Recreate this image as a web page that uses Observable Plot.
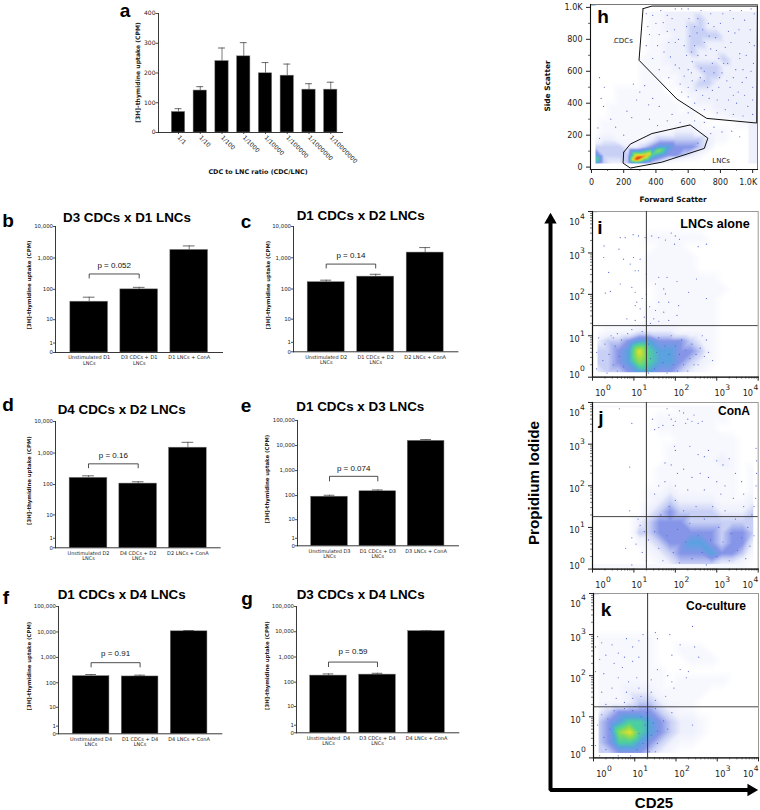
<!DOCTYPE html>
<html><head><meta charset="utf-8">
<script src="https://cdn.jsdelivr.net/npm/d3@7"></script>
<script src="https://cdn.jsdelivr.net/npm/@observablehq/plot@0.6"></script>
<style>
html,body{margin:0;padding:0;background:#fff}
#page{position:relative;width:760px;height:810px;overflow:hidden;background:#fff}
#page svg{position:absolute;background:transparent;overflow:visible}
.t{position:absolute;white-space:nowrap;transform:translate(-50%,-50%);line-height:1;color:#000}
</style></head><body><div id="page"></div>
<script>
// ---------- bar chart data ----------
const aCategories = ["1/1","1/10","1/100","1/1000","1/10000","1/100000","1/1000000","1/10000000"];
const aValues = [69,141,240,256,199,191,144,144];
const aHighs  = [80,154,284,302,235,230,164,169];

const bCategories = ["Unstimulated D1\nLNCs","D3 CDCs + D1\nLNCs","D1 LNCs + ConA"];
const bValues = [40,100,1800];
const bHighs  = [56,116,2415];
const bBracket = [230,310];
const bP = "p = 0.052"; const bPAt = 570;

const cCategories = ["Unstimulated D2\nLNCs","D1 CDCs + D2\nLNCs","D2 LNCs + ConA"];
const cValues = [166,250,1470];
const cHighs  = [192,297,2120];
const cBracket = [470,630];
const cP = "p = 0.14"; const cPAt = 1230;

const dCategories = ["Unstimulated D2\nLNCs","D4 CDCs + D2\nLNCs","D2 LNCs + ConA"];
const dValues = [163,107,1480];
const dHighs  = [189,122,2190];
const dBracket = [340,455];
const dP = "p = 0.16"; const dPAt = 830;

const eCategories = ["Unstimulated D3\nLNCs","D1 CDCs + D3\nLNCs","D3 LNCs + ConA"];
const eValues = [90,149,15400];
const eHighs  = [103,168,17400];
const eBracket = [385,590];
const eP = "p = 0.074"; const ePAt = 1170;

const fCategories = ["Unstimulated D4\nLNCs","D1 CDCs + D4\nLNCs","D4 LNCs + ConA"];
const fValues = [183,178,10600];
const fHighs  = [212,200,11400];
const fBracket = [420,620];
const fP = "p = 0.91"; const fPAt = 1370;

const gCategories = ["Unstimulated  D4\nLNCs","D3 CDCs + D4\nLNCs","D4 LNCs + ConA"];
const gValues = [183,200,10600];
const gHighs  = [213,226,11000];
const gBracket = [415,630];
const gP = "p = 0.59"; const gPAt = 1590;

const ticks4 = [0,1,10,100,1000,10000];
const ticks5 = [0,1,10,100,1000,10000,100000];
const aTicks = [0,100,200,300,400];

// ---------- flow cytometry data: density rows (0 = empty ... 9 = densest) ----------
const hRows = [ // y 975 down to 25, x 25 to 975, step 50
"00000001122222222222",
"00000001122223222222",
"00000001122233222222",
"00000001112233332222",
"00000001122233222222",
"00000001122232222222",
"00000011122222223222",
"00000011112223332222",
"00000011111222332222",
"00000011101223322222",
"00011111100122222222",
"00011111110012222222",
"00111111111011122222",
"00111111111110011222",
"01111111111111000011",
"01111111112221111000",
"12211112333333211000",
"33332234554443200000",
"53333886544321000000",
"53223543210000000000"];
const hHot = [[300,60,10],[280,50,10],[330,70,9],[255,45,8],[365,85,8],[420,105,7],[30,35,6],[40,60,6]];
const hDots = [[40,245],[50,180],[60,430],[50,560],[80,500],[140,780],[75,380],[120,300],[150,250],[200,200],[220,350],[250,310],[280,420],[300,470],[330,510],[260,520],[355,390],[380,430],[420,380],[360,300],[410,260],[500,330],[470,290],[550,280],[600,340],[640,290],[700,280],[760,250],[810,220],[870,225],[920,190],[740,210],[660,150],
[340,960],[400,900],[430,980],[470,850],[500,930],[520,780],[560,990],[590,880],[610,820],[640,760],[660,930],[690,860],[710,700],[740,960],[770,810],[800,900],[830,750],[860,980],[890,840],[920,710],[950,920],[980,780],[1005,650],[340,760],[380,680],[420,610],[450,720],[480,560],[520,640],[550,520],[590,700],[620,590],[650,480],[680,620],[700,540],[730,430],[760,590],[790,500],[820,650],[850,420],[880,560],[910,470],[940,610],[970,380],[1000,500],[780,340],[830,360],[880,330],[940,320],[1000,330],[600,440],[640,400],[700,360],[600,500],[560,470],
[360,830],[410,760],[445,905],[490,690],[515,860],[545,620],[575,760],[605,930],[625,660],[655,840],[675,560],[700,780],[725,900],[750,650],[775,730],[795,560],[815,960],[845,650],[865,780],[895,610],[915,860],[935,530],[960,700],[985,860],[1010,960],[1010,760],[600,610],[625,540],[660,700],[690,450],[720,500],[750,480],[780,420],[810,590],[860,500],[900,400],[950,450],[990,600],[575,570],[620,720],[540,800],[470,950],[420,830],[380,950],[350,880],[640,880],[680,980],[730,820],[760,880],[880,930],[930,980],[990,990],[850,850],[790,680],[740,740],[700,600],[600,990],[520,990],[480,780],[840,540],[920,680],[960,560],[1000,420],[880,450]];

const iRows = [ // y 3.875 down to 0.125, x 0.125 to 3.875 (log10), step 0.25
"0000000000000000",
"0000000000000000",
"0000011111100000",
"0000001110000000",
"0000011111000000",
"0000011111000000",
"0000011111110000",
"0000001111111000",
"0000001111110000",
"0000011111110000",
"0000011111110000",
"0111222211110000",
"2334554443210000",
"3345865544310000",
"3345765543210000",
"2334554432100000"];
const iDots = [[.67,3.37],[.79,3.37],[.98,3.44],[1.11,3.41],[1.27,3.37],[1.43,3.41],[1.6,3.37],[1.76,3.31],[1.9,3.48],[2,3.41],[2.1,3.33],[1.98,3.21],[2.55,3.15],[2.75,3.21],[.28,3.17],[.64,3.09],[.27,2.89],[.75,2.85],[.99,2.89],[1.15,2.85],[.91,2.73],[1.03,2.57],[1.11,2.57],[.39,2.53],[1.3,2.49],[1.6,2.41],[1.8,2.41],[2.04,2.31],[2.51,2.37],[.67,2.25],[.95,2.17],[1.03,2.05],[.43,2.07],[.31,2.03],[1.52,2.25],[1.72,2.13],[1.76,2.01],[1.07,1.81],[1.03,1.73],[1.15,1.65],[1.6,1.81],[1.84,1.81],[1.52,1.61],[1.72,1.57],[2.08,1.73],[2.32,2.05],[2.75,1.9],[.83,1.41],[1.03,1.37],[1.48,1.41],[1.84,1.37],[2.04,1.49],[1.2,1.9],[1.3,2],[1.38,1.7],[1.25,1.45],[1.4,1.3],[1.6,1.35],[2.6,.7],[2.7,.5],[2.75,.9],[2.8,.6],[2.9,.4],[2.55,.3],[2.65,1],
[.1,.2],[.1,.6],[.15,.95],[.25,.4],[.3,.8],[.35,.1],[.4,.55],[.45,1],[.5,.3],[.55,.75],[.6,.15],[.6,1.05],[.65,.5],[.7,.9],[.75,.25],[1.5,.2],[1.55,.6],[1.6,.95],[1.7,.35],[1.75,.75],[1.8,.1],[1.85,.55],[1.9,1],[1.95,.3],[2,.75],[2.05,.15],[2.1,.55],[2.15,.9],[2.2,.3],[2.25,.65],[2.3,.15],[2.35,.45],[2.4,.8],[2.45,.3],[2.5,.55],[1.35,.1],[1.4,.45],[1.35,.8],[1.2,1.1],[.95,1.15],[.85,1.05],[.5,.95]];
const iVertical = 20, iHorizontal = 17.6;

const jRows = [
"0000000011110000",
"0000001111111000",
"0000001111110000",
"0000000011111100",
"0000000111111100",
"0000000111112100",
"0000001111111101",
"0000001111111101",
"0000011211111101",
"0000012322221112",
"0000023433332223",
"0000234443333333",
"0000334444443443",
"0000123445543442",
"0000012344454431",
"0000001233332210"];
const jDots = [[1.8,3.85],[1.85,3.7],[1.9,3.6],[1.95,3.45],[2,3.55],[2.1,3.8],[2.2,3.75],[2.3,3.6],[2.4,3.55],[2.45,3.7],[2.55,3.5],[2.65,3.55],[2.25,3.5],[1.5,3.35],[1.6,3.4],[1.7,3.45],[1.45,3.6],[.65,3.85],[.95,3.5],[1.98,2.95],[2,2.85],[2.35,2.95],[2.55,2.75],[2.7,2.7],[2.8,2.85],[3,2.6],[3.15,2.5],[3.3,2.65],[1.75,2.55],[1.9,2.5],[2.05,2.3],[2.2,2.4],[2.4,2.2],[2.6,2.3],[2.8,2.2],[3,2.1],[3.2,2],[3.45,2.3],[3.6,2.1],[.9,2.45],[1.6,2],[1.75,2.1],[1.5,1.8],[2,2],[2.3,1.9],[2.7,1.9],[3.1,1.8],[3.4,1.7],[3.65,1.8],[3.95,2.9],[3.96,2.6],[3.96,2.3],[3.95,2],[3.94,1.7],[3.9,1.5],[1.25,.9],[1.05,.6],[.8,.5],[1.1,1.2],[1.2,.4],[.95,.75],[1.15,1.05],[.9,1.4],[1.35,.7],[1.3,.2],[.95,.1],
[1.5,.9],[1.6,.5],[1.65,1.3],[1.7,.2],[1.8,.8],[1.85,1.5],[1.95,.4],[2,1.65],[2.05,.95],[2.1,.15],[2.2,1.4],[2.25,.65],[2.35,1.1],[2.4,.25],[2.5,1.5],[2.55,.8],[2.65,.4],[2.7,1.2],[2.75,.1],[2.85,.7],[2.9,1.5],[3,.3],[3.05,1],[3.15,.65],[3.2,1.4],[3.3,.2],[3.35,.85],[3.45,1.2],[3.5,.45],[3.6,.75],[3.65,1.5],[3.7,.25],[3.75,1],[3.8,.55],[3.85,1.3],[3.9,.8]];
const jVertical = 20, jHorizontal = 18.2;

const kRows = [
"0000000000000000",
"0000000000000000",
"0000000000000000",
"0000000000000000",
"1111110000000000",
"1111110011100000",
"1111110001110000",
"1111111000000000",
"1111111011111000",
"1112221111100000",
"1112332111000000",
"2344443211000000",
"3456654322100000",
"3478654322100000",
"3466543211000000",
"3344432100000000"];
const kDots = [[.1,2.95],[.2,2.8],[.05,2.7],[.3,2.5],[.15,2.4],[.45,2.75],[.6,2.55],[.75,2.45],[.95,2.7],[1.1,2.85],[1.2,3],[.8,2.9],[.5,2.3],[.7,2.2],[.95,2.35],[1.1,2.45],[.05,2.1],[.25,2.05],[.6,1.95],[.85,1.85],[1.05,1.95],[1.1,1.7],[.8,1.6],[.45,1.7],[.2,1.6],[.95,1.45],[1.15,1.5],[.75,1.35],[1.5,3.05],[1.55,2.9],[1.85,3],[1.9,2.5],[2.1,2.75],[2.4,3.2],[2.55,2.45],[2.45,2.7],[1.4,1.9],[1.55,2.15],[1.8,2],[1.95,1.7],[2.1,2.15],[2.25,1.95],[2.3,2.1],[1.75,1.5],[1.5,1.4],[1.4,1.6],[1.9,1.85],[2.4,.8],[1.7,.9],[1.8,.7],[1.55,.35],[1.5,.15],[1.9,1.1],
[.05,.3],[.1,.8],[.15,.05],[.2,1.05],[.25,.5],[.3,.2],[.35,.95],[.4,.7],[1.05,.2],[1.1,.6],[1.15,1],[1.2,.35],[1.25,.8],[1.3,1.1],[1.35,.15],[1.4,.55],[1.45,.85],[1.5,1.2],[1.55,.65],[.5,1.15],[.75,1.2],[1,1.25],[.6,.05],[.9,.05],[.3,1.3],[.55,1.45],[.95,1.15]];
const kVertical = 20.5, kHorizontal = 17.5;

const cdcGate = [[320,992],[375,1008],[1029,1008],[1025,276],[715,305],[530,426],[295,669],[320,992]];
const lncGate = [[200,93],[241,144],[375,210],[612,264],[722,181],[700,117],[437,31],[241,-6],[196,25],[200,93]];
const scatterTicks = [0,200,400,600,800];
const scatterMinor = [100,300,500,700,900];
const exponents = [0,1,2,3,4];
const densityColors = ["#ffffff","#f7f8fe","#eef0fc","#c8d0f5","#8695e8","#5aa2e0","#4ccfa0","#8fdc50","#e8e030","#f09020","#e02810"];

// ---------- drawing ----------
const page = document.getElementById("page");
const sans = "'DejaVu Sans',sans-serif", bold = "'Liberation Sans',Arial,sans-serif";
function place(el,x,y){el.style.left=x+"px";el.style.top=y+"px";page.appendChild(el);}
function label(text,x,y,css){const d=document.createElement("div");d.className="t";d.textContent=text;d.style.left=x+"px";d.style.top=y+"px";d.style.cssText+=css;page.appendChild(d);}

function barPanel(L,cats,vals,highs,ticks,o={}){
  const n=cats.length, W=L.right-L.left, pi=1-L.w/L.step, po=(W/L.step-n+pi)/2;
  const al=(L.c0-L.w/2-L.left)/(W-L.step*(n-pi));
  const ml=56,mt=8,mb=L.mb||24,mr=L.mr||4;
  const data=cats.map((c,i)=>({c,v:vals[i],h:highs[i]}));
  const marks=[
    Plot.barY(data,{x:"c",y:"v",fill:"#000",stroke:"#777",strokeWidth:.5}),
    Plot.ruleX(data,{x:"c",y1:"v",y2:"h",stroke:"#444",strokeWidth:.7}),
    Plot.tickY(data,{x:"c",y:"h",stroke:"#444",strokeWidth:.8,insetLeft:L.cap,insetRight:L.cap}),
    Plot.axisY({ticks,tickFormat:d3.format(","),tickSize:L.tick||2,tickPadding:.5,fontSize:L.fs||5.4,label:null,strokeWidth:.8}),
    Plot.axisX({tickSize:L.xtick||0,tickPadding:L.xpad||3,fontSize:L.xfs||5,label:null,lineHeight:1.12,tickRotate:L.rot||0,strokeWidth:.8}),
    Plot.frame({anchor:"left",stroke:"#222",strokeWidth:.9}),
    Plot.frame({anchor:"bottom",stroke:"#222",strokeWidth:.9}),
    Plot.text([L.ytitle||"[3H]-thymidine uptake (CPM)"],{frameAnchor:"left",rotate:-90,textAnchor:"middle",dx:L.ydx,dy:L.ydy,fontSize:L.yfs||5.4,fontWeight:"bold",fill:"#222"})
  ];
  if(o.bracket){
    const [lo,hi]=o.bracket;
    marks.push(Plot.line([[cats[0],lo],[cats[0],hi],[cats[1],hi],[cats[1],lo]],{x:d=>d[0],y:d=>d[1],stroke:"#222",strokeWidth:.8}));
    marks.push(Plot.text([o.p],{x:()=>cats[0],y:()=>o.pAt,dx:L.step/2,text:d=>d,fontSize:8,fontFamily:bold,fill:"#111"}));
  }
  const svg=Plot.plot({
    width:ml+W+mr,height:mt+(L.bottom-L.top)+mb,marginLeft:ml,marginRight:mr,marginTop:mt,marginBottom:mb,
    style:{fontFamily:sans,fontSize:"5.2px",color:"#222"},
    x:{type:"band",domain:cats,paddingInner:pi,paddingOuter:po,align:al,round:false,label:null,axis:null},
    y:o.linear?{type:"linear",domain:[0,400],label:null,axis:null}:{type:"symlog",constant:1,domain:[0,ticks[ticks.length-1]],label:null,axis:null},
    marks
  });
  place(svg,L.left-ml,L.top-mt);
}

function densityPoints(rows,x0,dx,y0,dy,conv){
  const out=[];
  rows.forEach((r,i)=>[...r].forEach((c,j)=>out.push({x:conv(x0+dx*j),y:conv(y0-dy*i),v:+c})));
  return out;
}
const colorScale={type:"linear",domain:d3.range(densityColors.length),range:densityColors,clamp:true};

function flowPanel(L,rows,dots,vert,horiz){
  const ml=50,mt=4,mb=26,mr=2;
  const pow=e=>10**e;
  const minor=exponents.slice(0,4).flatMap(e=>[2,3,4,5,6,7,8,9].map(k=>k*10**e));
  const major=exponents.map(pow);
  const xShift=[.19,.07,.085,.07,-.25], yShift=[.055,-.08,-.08,-.08,-.257];
  const svg=Plot.plot({
    width:ml+(L.right-L.left)+mr,height:mt+(L.bottom-L.top)+mb,marginLeft:ml,marginRight:mr,marginTop:mt,marginBottom:mb,
    style:{fontFamily:sans,fontSize:"7px",color:"#222"},
    x:{type:"log",domain:[1,10000],label:null,axis:null},
    y:{type:"log",domain:[1,10000],label:null,axis:null},
    color:colorScale,
    marks:[
      Plot.raster(densityPoints(rows,.125,.25,3.875,.25,pow),{x:"x",y:"y",fill:"v",interpolate:"barycentric",pixelSize:1}),
      Plot.dot(dots,{x:d=>pow(d[0]),y:d=>pow(d[1]),r:.6,fill:"#5566d4",stroke:"none"}),
      Plot.frame({stroke:"#999",strokeWidth:1}),
      Plot.frame({anchor:"left",stroke:"#111",strokeWidth:1.2}),
      Plot.frame({anchor:"bottom",stroke:"#111",strokeWidth:1.2}),
      Plot.ruleX([vert],{stroke:"#333",strokeWidth:1}),
      Plot.ruleY([horiz],{stroke:"#333",strokeWidth:.9}),
      Plot.axisX({ticks:major,tickSize:4,tickFormat:()=>"",label:null,strokeWidth:1}),
      Plot.axisX({ticks:minor,tickSize:2,tickFormat:()=>"",label:null,strokeWidth:.6}),
      Plot.axisY({ticks:major,tickSize:4,tickFormat:()=>"",label:null,strokeWidth:1}),
      Plot.axisY({ticks:minor,tickSize:2,tickFormat:()=>"",label:null,strokeWidth:.6}),
      Plot.text(exponents,{x:e=>pow(e+xShift[e]),frameAnchor:"bottom",dy:19,text:()=>"10",fontSize:8.2,fill:"#222"}),
      Plot.text(exponents,{x:e=>pow(e+xShift[e]),frameAnchor:"bottom",dy:13,dx:8,text:e=>String(e),fontSize:7.6,fill:"#222"}),
      Plot.text(exponents,{y:e=>pow(e+yShift[e]),frameAnchor:"left",textAnchor:"middle",dx:-18,text:()=>"10",fontSize:8.2,fill:"#222"}),
      Plot.text(exponents,{y:e=>pow(e+yShift[e]),frameAnchor:"left",textAnchor:"middle",dx:-10,dy:-6,text:e=>String(e),fontSize:7.6,fill:"#222"})
    ]
  });
  place(svg,L.left-ml,L.top-mt);
}

// background arrows
const arrowPath=[[550,222],[550,789.5],[750,789.5]];
place(Plot.plot({
  width:760,height:810,margin:0,
  x:{domain:[0,760],range:[0,760],axis:null,label:null},
  y:{domain:[0,810],range:[0,810],axis:null,label:null},
  marks:[
    Plot.line(arrowPath,{stroke:"#000",strokeWidth:4,strokeLinejoin:"miter"}),
    Plot.dot([[550,219.5]],{symbol:"triangle",r:4.6,fill:"#000",stroke:"none"}),
    Plot.dot([[750.5,789.5]],{symbol:"triangle",r:4.6,fill:"#000",stroke:"none",rotate:90})
  ]
}),0,0);

// panel a
barPanel({left:158,right:342,top:13,bottom:132,c0:178,step:21.75,w:13.3,cap:3.2,ydx:-20.5,ydy:-.5,fs:6,xfs:6,yfs:6.1,mb:56,rot:45,xpad:2,xtick:2,tick:2.5,ytitle:"[3H]-thymidine uptake (CPM)"},aCategories,aValues,aHighs,aTicks,{linear:true});

// panels b-g
barPanel({left:55,right:222,top:226,bottom:352,c0:88.7,step:50,w:37.7,cap:13,ydx:-26,ydy:-4.5},bCategories,bValues,bHighs,ticks4,{bracket:bBracket,p:bP,pAt:bPAt});
barPanel({left:293.3,right:457.7,top:225.7,bottom:351,c0:326,step:49.5,w:37,cap:13,ydx:-25.5,ydy:-4},cCategories,cValues,cHighs,ticks4,{bracket:cBracket,p:cP,pAt:cPAt});
barPanel({left:55.3,right:220,top:421,bottom:547.3,c0:88.3,step:49.7,w:37.7,cap:13,ydx:-26.5,ydy:-4},dCategories,dValues,dHighs,ticks4,{bracket:dBracket,p:dP,pAt:dPAt});
barPanel({left:297.3,right:458.3,top:420,bottom:545.3,c0:329.3,step:48.3,w:36.7,cap:13,ydx:-30,ydy:-4},eCategories,eValues,eHighs,ticks5,{bracket:eBracket,p:eP,pAt:ePAt});
barPanel({left:57.7,right:221,top:605.7,bottom:733,c0:90.3,step:49,w:36.7,cap:13,ydx:-29.5,ydy:-4},fCategories,fValues,fHighs,ticks5,{bracket:fBracket,p:fP,pAt:fPAt});
barPanel({left:296,right:458.3,top:606,bottom:732.3,c0:328,step:49,w:36.7,cap:13,ydx:-29.5,ydy:-4},gCategories,gValues,gHighs,ticks5,{bracket:gBracket,p:gP,pAt:gPAt});

// panel h
(function(){
  const L={left:590,right:757,top:4,bottom:169}, ml=50,mt=4,mb=26,mr=3;
  const grid=densityPoints(hRows,25,50,975,50,d=>d).concat(hHot.map(d=>({x:d[0],y:d[1],v:d[2]})));
  const svg=Plot.plot({
    width:ml+(L.right-L.left)+mr,height:mt+(L.bottom-L.top)+mb,marginLeft:ml,marginRight:mr,marginTop:mt,marginBottom:mb,
    style:{fontFamily:sans,fontSize:"7.5px",color:"#222"},
    x:{domain:[-6,1030],label:null,axis:null},
    y:{domain:[-15,1018],label:null,axis:null},
    color:colorScale,
    marks:[
      Plot.raster(grid,{x:"x",y:"y",fill:"v",interpolate:"barycentric",pixelSize:1}),
      Plot.dot(hDots,{x:d=>d[0],y:d=>d[1],r:.6,fill:"#5566d4",stroke:"none"}),
      Plot.frame({stroke:"#777",strokeWidth:1}),
      Plot.frame({anchor:"left",stroke:"#111",strokeWidth:1.1}),
      Plot.frame({anchor:"bottom",stroke:"#111",strokeWidth:1.1}),
      Plot.line(cdcGate,{stroke:"#111",strokeWidth:1}),
      Plot.line(lncGate,{stroke:"#111",strokeWidth:1}),
      Plot.axisX({ticks:scatterTicks,tickSize:4,tickPadding:5.5,fontSize:8,label:null,tickFormat:d=>d}),
      Plot.axisX({ticks:[1000],tickSize:4,tickFormat:()=>"",label:null}),
      Plot.axisX({ticks:scatterMinor,tickSize:2,tickFormat:()=>"",label:null,strokeWidth:.7}),
      Plot.axisY({ticks:scatterTicks.concat([1000]),tickSize:4,tickPadding:4,fontSize:8,label:null,tickFormat:d=>d===1000?"1.0K":d}),
      Plot.axisY({ticks:scatterMinor,tickSize:2,tickFormat:()=>"",label:null,strokeWidth:.7}),
      Plot.text(["1.0K"],{x:()=>1000,frameAnchor:"bottom",dy:15.5,dx:-4.5,fontSize:8,fill:"#222",text:d=>d}),
      Plot.text(["CDCs"],{x:()=>198,y:()=>794,fontSize:7,fill:"#222",text:d=>d}),
      Plot.text(["LNCs"],{x:()=>804,y:()=>41,fontSize:7,fill:"#222",text:d=>d})
    ]
  });
  place(svg,L.left-ml,L.top-mt);
})();

// panels i, j, k
flowPanel({left:592,right:757.7,top:211,bottom:376.7},iRows,iDots,iVertical,iHorizontal);
flowPanel({left:592,right:757.7,top:401.7,bottom:568.3},jRows,jDots,jVertical,jHorizontal);
flowPanel({left:592.7,right:757.7,top:593.3,bottom:757.7},kRows,kDots,kVertical,kHorizontal);

// titles and letters
const titleCss=`font:bold 13.4px ${bold};`;
label("D3 CDCs x D1 LNCs",127,216.5,titleCss);
label("D1 CDCs x D2 LNCs",360.7,215,titleCss);
label("D4 CDCs x D2 LNCs",121.7,409,titleCss);
label("D1 CDCs x D3 LNCs",360.3,406,titleCss);
label("D1 CDCs x D4 LNCs",121.7,594,titleCss);
label("D3 CDCs x D4 LNCs",360.7,594,titleCss);
const letterCss=`font:bold 19px ${bold};`;
[["a",125,11],["b",8,221],["c",246,222],["d",8,405],["e",246,406],["f",6,598],["g",247,599],["h",603,17]].forEach(([t,x,y])=>label(t,x,y,letterCss));
label("i",600,228,letterCss);label("j",601,418,letterCss);label("k",606,610,letterCss);
label("LNCs alone",715,224,`font:bold 12.6px ${bold};`);
label("ConA",734,411,`font:bold 12px ${bold};`);
label("Co-culture",716,606,`font:bold 12px ${bold};`);
label("CDC to LNC ratio (CDC/LNC)",258,172,`font:bold 6.4px ${sans};color:#111;`);
label("Forward Scatter",673,199,`font:bold 7.4px ${sans};color:#111;`);
label("Side Scatter",547,86,`font:bold 7.4px ${sans};color:#111;transform:translate(-50%,-50%) rotate(-90deg);`);
label("Propidium Iodide",533,483,`font:bold 15.2px ${bold};transform:translate(-50%,-50%) rotate(-90deg);`);
label("CD25",654,802,`font:bold 15px ${bold};`);
</script></body></html>
